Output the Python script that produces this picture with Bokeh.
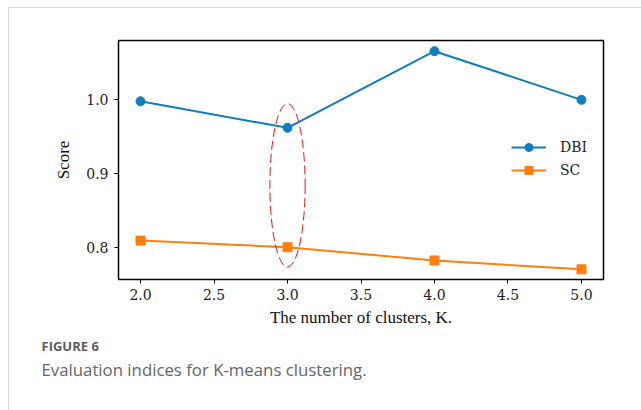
from bokeh.plotting import figure
from bokeh.models import (Range1d, FixedTicker, Legend, LegendItem, Title,
                          CustomJSTickFormatter)
from bokeh.embed import file_html
from bokeh.resources import INLINE

# Cluster count and the two evaluation indices
k_values = [2, 3, 4, 5]
dbi = [0.998, 0.962, 1.066, 1.000]
sc = [0.809, 0.800, 0.782, 0.770]
x_ticks = [2.0, 2.5, 3.0, 3.5, 4.0, 4.5, 5.0]
y_ticks = [0.8, 0.9, 1.0]

# Highlight ellipse around the chosen K
chosen_k = 3.0
ellipse_center_y = 0.884
ellipse_w = 0.24
ellipse_h = 0.222

BLUE = "#0e7dc2"
ORANGE = "#ff7f0e"
TICK_FONT = "DejaVu Serif"
LABEL_FONT = "Liberation Serif"
RULE = "#d8d8d8"

W, H = 641, 410
FL, FR, FT, FB = 118, 603, 40, 279  # frame edges in canvas pixels

p = figure(width=W, height=H, output_backend="svg", toolbar_location=None,
           x_range=Range1d(1.85, 5.15), y_range=Range1d(0.7562, 1.0805),
           min_border_left=FL, min_border_right=W - FR,
           min_border_top=FT, min_border_bottom=H - FB,
           background_fill_color="white", border_fill_color=None)

# card outline: thin top and left rules behind the transparent border area
p.styles = {
    "background-color": "white",
    "background-image": f"linear-gradient({RULE}, {RULE}), linear-gradient({RULE}, {RULE})",
    "background-size": f"{W - 8}px 1px, 1px {H - 7}px",
    "background-position": "8px 7px, 8px 7px",
    "background-repeat": "no-repeat",
}

p.xgrid.visible = False
p.ygrid.visible = False
p.outline_line_color = "black"
p.outline_line_width = 1.5

for ax in (p.xaxis[0], p.yaxis[0]):
    ax.axis_line_color = None
    ax.major_tick_line_color = "black"
    ax.major_tick_line_width = 1
    ax.major_tick_out = 4
    ax.major_tick_in = 0
    ax.minor_tick_line_color = None
    ax.major_label_text_font = TICK_FONT
    ax.major_label_text_font_size = "14px"
    ax.major_label_text_color = "#222222"
    ax.axis_label_text_font = LABEL_FONT
    ax.axis_label_text_font_size = "17px"
    ax.axis_label_text_font_style = "normal"
    ax.axis_label_text_color = "#111111"

p.xaxis.ticker = FixedTicker(ticks=x_ticks)
p.yaxis.ticker = FixedTicker(ticks=y_ticks)
p.xaxis.formatter = CustomJSTickFormatter(code="return tick.toFixed(1)")
p.yaxis.formatter = CustomJSTickFormatter(code="return tick.toFixed(1)")
p.xaxis.major_label_standoff = 5
p.yaxis.major_label_standoff = 6
p.xaxis.axis_label = "The number of clusters, K."
p.yaxis.axis_label = "Score"
p.xaxis.axis_label_standoff = 5
p.yaxis.axis_label_standoff = 10

l1 = p.line(k_values, dbi, line_color=BLUE, line_width=2)
m1 = p.scatter(k_values, dbi, marker="circle", size=9, fill_color=BLUE, line_color=BLUE)
l2 = p.line(k_values, sc, line_color=ORANGE, line_width=2)
m2 = p.scatter(k_values, sc, marker="square", size=9, fill_color=ORANGE, line_color=ORANGE)

p.ellipse(x=[chosen_k], y=[ellipse_center_y], width=ellipse_w, height=ellipse_h,
          fill_color=None, line_color="#ee1111", line_width=1, line_dash="9 4")

legend = Legend(items=[LegendItem(label="DBI", renderers=[l1, m1]),
                       LegendItem(label="SC", renderers=[l2, m2])],
                location=(393, 99), orientation="vertical",
                border_line_color=None, background_fill_alpha=0,
                padding=0, margin=0, spacing=3,
                glyph_width=35, glyph_height=20, label_height=20,
                label_standoff=14, label_text_font=TICK_FONT,
                label_text_font_size="14px", label_text_color="#222222")
p.add_layout(legend)

# Figure caption below the axis
fig_no = Title(text="FIGURE 6", align="left", offset=41 - FL, standoff=11,
               text_font="Open Sans", text_font_size="13px",
               text_font_style="bold", text_color="#5c5c5c")
caption = Title(text="Evaluation indices for K-means clustering.", align="left",
                offset=41 - FL, standoff=-9, text_font="Open Sans",
                text_font_size="16.8px", text_font_style="normal",
                text_color="#666666")
p.add_layout(fig_no, "below")
p.add_layout(caption, "below")

open("out.html", "w").write(file_html(p, INLINE))
